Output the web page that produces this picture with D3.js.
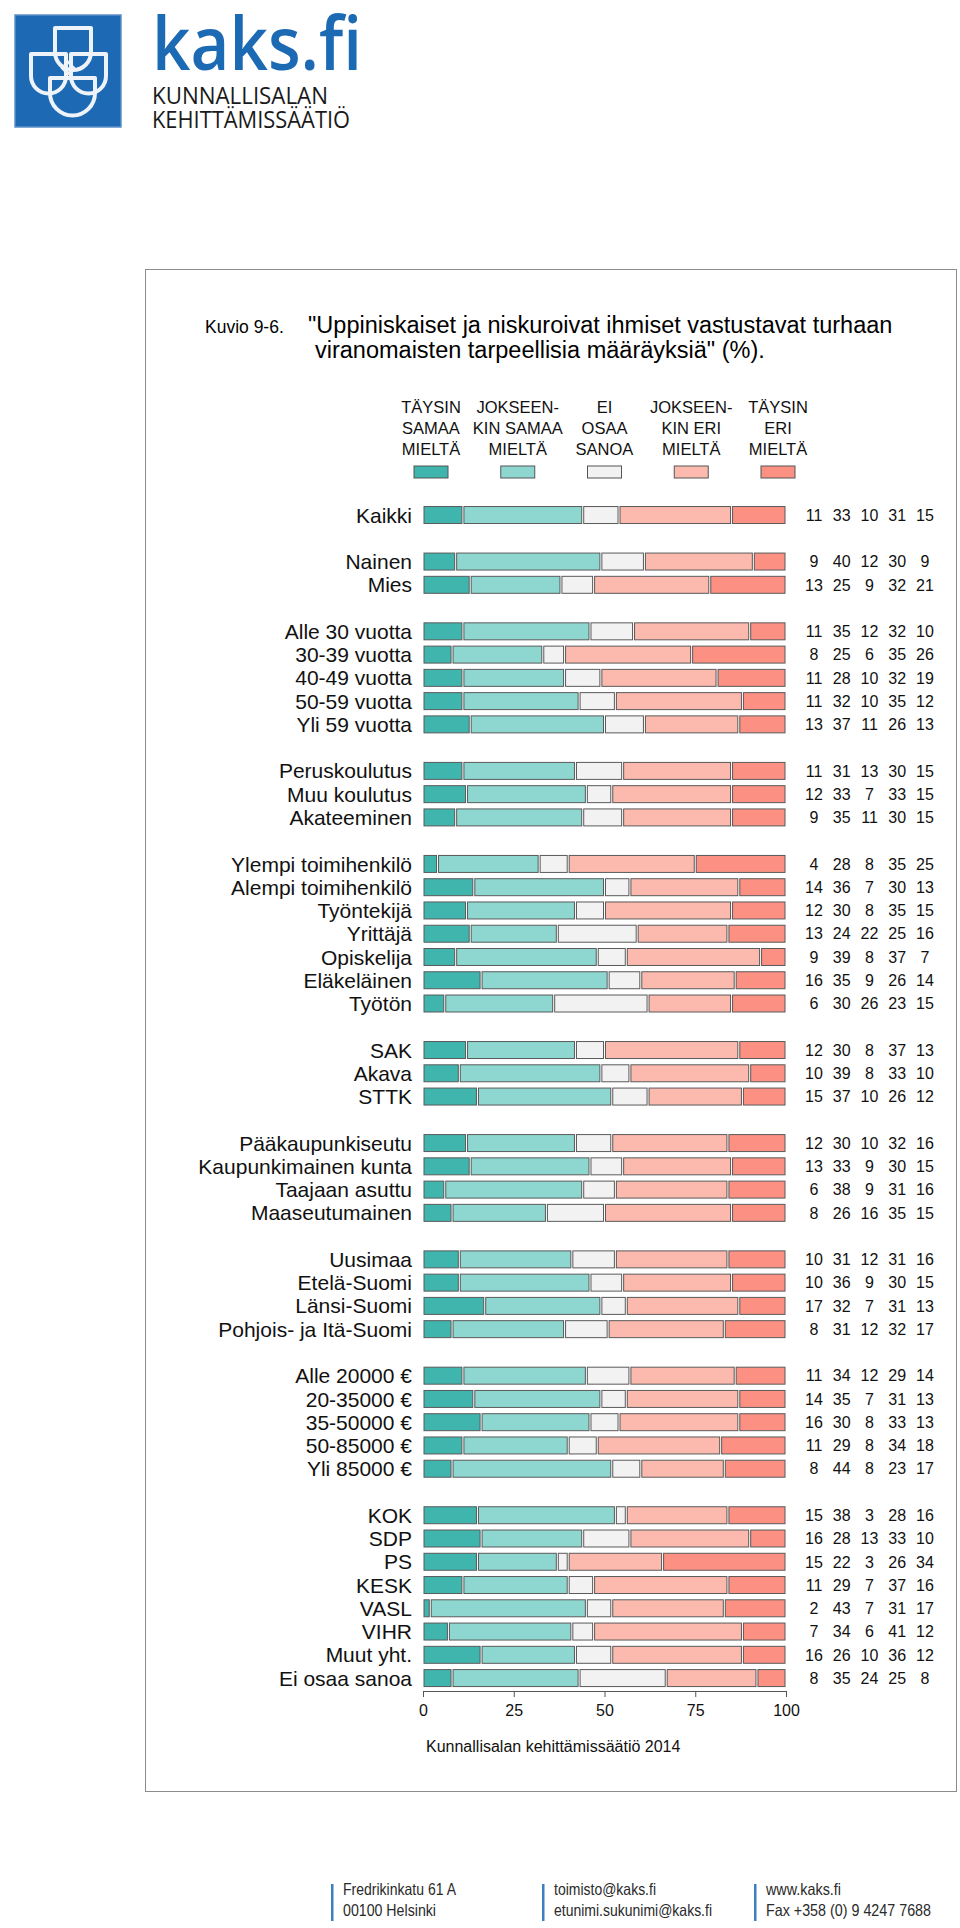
<!DOCTYPE html>
<html>
<head>
<meta charset="utf-8">
<script src="https://cdn.jsdelivr.net/npm/d3@7"></script>
<style>
  body { margin: 0; background: #fff; }
  svg { display: block; }
</style>
</head>
<body>
<div id="chart"></div>
<script>
// answer categories (order of the stack)
var seriesKeys = ["taysinSamaa", "jokseenkinSamaa", "eiOsaa", "jokseenkinEri", "taysinEri"];
var legendLines = [
  ["TÄYSIN", "SAMAA", "MIELTÄ"],
  ["JOKSEEN-", "KIN SAMAA", "MIELTÄ"],
  ["EI", "OSAA", "SANOA"],
  ["JOKSEEN-", "KIN ERI", "MIELTÄ"],
  ["TÄYSIN", "ERI", "MIELTÄ"]
];
var colors = ["#40b5ae", "#8ed7d1", "#f2f2f2", "#fcb9ae", "#fb9083"];

// row labels, split into groups by groupSizes
var categories = [
  "Kaikki",
  "Nainen", "Mies",
  "Alle 30 vuotta", "30-39 vuotta", "40-49 vuotta", "50-59 vuotta", "Yli 59 vuotta",
  "Peruskoulutus", "Muu koulutus", "Akateeminen",
  "Ylempi toimihenkilö", "Alempi toimihenkilö", "Työntekijä", "Yrittäjä", "Opiskelija", "Eläkeläinen", "Työtön",
  "SAK", "Akava", "STTK",
  "Pääkaupunkiseutu", "Kaupunkimainen kunta", "Taajaan asuttu", "Maaseutumainen",
  "Uusimaa", "Etelä-Suomi", "Länsi-Suomi", "Pohjois- ja Itä-Suomi",
  "Alle 20000 €", "20-35000 €", "35-50000 €", "50-85000 €", "Yli 85000 €",
  "KOK", "SDP", "PS", "KESK", "VASL", "VIHR", "Muut yht.", "Ei osaa sanoa"
];
var groupSizes = [1, 2, 5, 3, 7, 3, 4, 4, 5, 8];

var taysinSamaa     = [11,  9, 13, 11,  8, 11, 11, 13, 11, 12,  9,  4, 14, 12, 13,  9, 16,  6, 12, 10, 15, 12, 13,  6,  8, 10, 10, 17,  8, 11, 14, 16, 11,  8, 15, 16, 15, 11,  2,  7, 16,  8];
var jokseenkinSamaa = [33, 40, 25, 35, 25, 28, 32, 37, 31, 33, 35, 28, 36, 30, 24, 39, 35, 30, 30, 39, 37, 30, 33, 38, 26, 31, 36, 32, 31, 34, 35, 30, 29, 44, 38, 28, 22, 29, 43, 34, 26, 35];
var eiOsaa          = [10, 12,  9, 12,  6, 10, 10, 11, 13,  7, 11,  8,  7,  8, 22,  8,  9, 26,  8,  8, 10, 10,  9,  9, 16, 12,  9,  7, 12, 12,  7,  8,  8,  8,  3, 13,  3,  7,  7,  6, 10, 24];
var jokseenkinEri   = [31, 30, 32, 32, 35, 32, 35, 26, 30, 33, 30, 35, 30, 35, 25, 37, 26, 23, 37, 33, 26, 32, 30, 31, 35, 31, 30, 31, 32, 29, 31, 33, 34, 23, 28, 33, 26, 37, 31, 41, 36, 25];
var taysinEri       = [15,  9, 21, 10, 26, 19, 12, 13, 15, 15, 15, 25, 13, 15, 16,  7, 14, 15, 13, 10, 12, 16, 15, 16, 15, 16, 15, 13, 17, 14, 13, 13, 18, 17, 16, 10, 34, 16, 17, 12, 12,  8];

var xTicks = [0, 25, 50, 75, 100];

var rows = categories.map(function(c, i) {
  return {
    label: c,
    taysinSamaa: taysinSamaa[i],
    jokseenkinSamaa: jokseenkinSamaa[i],
    eiOsaa: eiOsaa[i],
    jokseenkinEri: jokseenkinEri[i],
    taysinEri: taysinEri[i]
  };
});

// slots: rows with an empty slot between groups
var slots = [];
var k = 0;
groupSizes.forEach(function(n, g) {
  for (var j = 0; j < n; j++) { slots.push(categories[k]); k++; }
  if (g < groupSizes.length - 1) slots.push("__gap" + g);
});

var svg = d3.select("#chart").append("svg")
  .attr("width", 960)
  .attr("height", 1928);

svg.append("rect").attr("width", 960).attr("height", 1928).attr("fill", "#fff");

// ---------- logo ----------
var logo = svg.append("g");
logo.append("rect")
  .attr("x", 15).attr("y", 15).attr("width", 106).attr("height", 112)
  .attr("fill", "#1d69b3").attr("stroke", "#5d8fc6").attr("stroke-width", 1.5);

// shield outline: flat top, straight sides, round bottom
function shield(x0, x1, y0, ym) {
  var r = (x1 - x0) / 2;
  return "M" + x0 + "," + y0 + "H" + x1 + "V" + ym +
    "A" + r + "," + r + " 0 0 1 " + x0 + "," + ym + "Z";
}
var emblem = [
  shield(55, 91, 28, 52),
  shield(31, 66, 54, 76),
  shield(71, 106, 54, 76),
  shield(50, 95, 78, 93)
];
logo.selectAll("path.emb").data(emblem).enter().append("path")
  .attr("class", "emb")
  .attr("d", function(d) { return d; })
  .attr("fill", "none")
  .attr("stroke", "#eef3fa")
  .attr("stroke-width", 4)
  .attr("stroke-linejoin", "round");
logo.append("path")
  .attr("d", "M68,62 L74,68 L68,74 L62,68 Z")
  .attr("fill", "none").attr("stroke", "#eef3fa").attr("stroke-width", 2.5);

logo.append("text")
  .attr("x", 152).attr("y", 70)
  .attr("textLength", 210).attr("lengthAdjust", "spacingAndGlyphs")
  .style("font-family", "'Open Sans', sans-serif").style("font-size", "74px").style("font-weight", 600)
  .attr("fill", "#1d6ab4")
  .text("kaks.fi");
logo.append("text")
  .attr("x", 152).attr("y", 104)
  .attr("textLength", 176).attr("lengthAdjust", "spacingAndGlyphs")
  .style("font-family", "'Open Sans', sans-serif").style("font-size", "23px")
  .attr("fill", "#1a1a1a")
  .text("KUNNALLISALAN");
logo.append("text")
  .attr("x", 152).attr("y", 128)
  .attr("textLength", 198).attr("lengthAdjust", "spacingAndGlyphs")
  .style("font-family", "'Open Sans', sans-serif").style("font-size", "23px")
  .attr("fill", "#1a1a1a")
  .text("KEHITTÄMISSÄÄTIÖ");

// ---------- frame ----------
svg.append("rect")
  .attr("x", 145.5).attr("y", 269.5).attr("width", 811).attr("height", 1522)
  .attr("fill", "none").attr("stroke", "#8c8c8c").attr("stroke-width", 1);

var font = "'Liberation Sans', Arial, sans-serif";

// ---------- title ----------
svg.append("text")
  .attr("x", 205).attr("y", 333)
  .style("font-family", font).style("font-size", "17.5px")
  .text("Kuvio 9-6.");
svg.append("text")
  .attr("x", 308).attr("y", 333)
  .style("font-family", font).style("font-size", "23.5px")
  .text("\"Uppiniskaiset ja niskuroivat ihmiset vastustavat turhaan");
svg.append("text")
  .attr("x", 315).attr("y", 358)
  .style("font-family", font).style("font-size", "23.5px")
  .text("viranomaisten tarpeellisia määräyksiä\" (%).");

// ---------- scales ----------
var x = d3.scaleLinear().domain([0, 100]).range([423, 786]);
var y = d3.scaleBand().domain(slots).range([503.4, 1689.7]).paddingInner(0.27).paddingOuter(0.135);

// ---------- legend ----------
var lx = d3.scalePoint().domain(seriesKeys).range([431, 778]);
var legend = svg.append("g").selectAll("g").data(seriesKeys).enter().append("g")
  .attr("transform", function(d) { return "translate(" + lx(d) + ",0)"; });
legend.selectAll("text").data(function(d, i) { return legendLines[i]; }).enter().append("text")
  .attr("y", function(d, i) { return 413 + i * 21; })
  .attr("text-anchor", "middle")
  .style("font-family", font).style("font-size", "16.5px").attr("fill", "#111")
  .text(function(d) { return d; });
legend.append("rect")
  .attr("x", -17).attr("y", 466).attr("width", 34).attr("height", 12)
  .attr("fill", function(d, i) { return colors[i]; })
  .attr("stroke", "#555").attr("stroke-width", 1);

// ---------- bars ----------
var stack = d3.stack().keys(seriesKeys);
var series = stack(rows);

var layer = svg.append("g").selectAll("g").data(series).enter().append("g")
  .attr("fill", function(d, i) { return colors[i]; });
layer.selectAll("rect").data(function(d) { return d; }).enter().append("rect")
  .attr("x", function(d) { return x(d[0]) + 1; })
  .attr("y", function(d) { return y(d.data.label); })
  .attr("width", function(d) { return Math.max(0.5, x(d[1]) - x(d[0]) - 2); })
  .attr("height", y.bandwidth())
  .attr("stroke", "#5a5a5a").attr("stroke-width", 1);

// row labels
svg.append("g").selectAll("text").data(rows).enter().append("text")
  .attr("x", 412)
  .attr("y", function(d) { return y(d.label) + y.bandwidth() / 2; })
  .attr("dy", "0.36em")
  .attr("text-anchor", "end")
  .style("font-family", font).style("font-size", "21px").attr("fill", "#111")
  .text(function(d) { return d.label; });

// value columns
var nx = d3.scalePoint().domain(seriesKeys).range([814, 925]);
var valRows = svg.append("g").selectAll("g").data(rows).enter().append("g")
  .attr("transform", function(d) { return "translate(0," + (y(d.label) + y.bandwidth() / 2) + ")"; });
valRows.selectAll("text").data(function(d) {
    return seriesKeys.map(function(s) { return { key: s, v: d[s] }; });
  }).enter().append("text")
  .attr("x", function(d) { return nx(d.key); })
  .attr("dy", "0.36em")
  .attr("text-anchor", "middle")
  .style("font-family", font).style("font-size", "16px").attr("fill", "#111")
  .text(function(d) { return d.v; });

// ---------- axis ----------
var axis = svg.append("g")
  .attr("transform", "translate(0,1691)")
  .call(d3.axisBottom(x).tickValues(xTicks).tickSizeOuter(0).tickSize(6).tickPadding(8));
axis.select(".domain").attr("stroke", "#555");
axis.selectAll(".tick line").attr("stroke", "#555");
axis.selectAll(".tick text")
  .style("font-family", font).style("font-size", "16px").attr("fill", "#111");

svg.append("text")
  .attr("x", 426).attr("y", 1752)
  .style("font-family", font).style("font-size", "16px").attr("fill", "#111")
  .text("Kunnallisalan kehittämissäätiö 2014");

// ---------- footer ----------
var footer = [
  { x: 332, lines: ["Fredrikinkatu 61 A", "00100 Helsinki"], widths: [113, 93] },
  { x: 543, lines: ["toimisto@kaks.fi", "etunimi.sukunimi@kaks.fi"], widths: [102, 158] },
  { x: 755, lines: ["www.kaks.fi", "Fax +358 (0) 9 4247 7688"], widths: [75, 165] }
];
var fcol = svg.append("g").selectAll("g").data(footer).enter().append("g")
  .attr("transform", function(d) { return "translate(" + d.x + ",0)"; });
fcol.append("rect")
  .attr("x", -1).attr("y", 1884).attr("width", 2.5).attr("height", 37)
  .attr("fill", "#3d7fbf");
fcol.selectAll("text").data(function(d) {
    return d.lines.map(function(t, i) { return { t: t, w: d.widths[i] }; });
  }).enter().append("text")
  .attr("x", 11)
  .attr("y", function(d, i) { return 1895 + i * 21; })
  .attr("textLength", function(d) { return d.w; })
  .attr("lengthAdjust", "spacingAndGlyphs")
  .style("font-family", "'Liberation Sans', sans-serif")
  .style("font-size", "16.5px").attr("fill", "#2a2a2a")
  .text(function(d) { return d.t; });
</script>
</body>
</html>
